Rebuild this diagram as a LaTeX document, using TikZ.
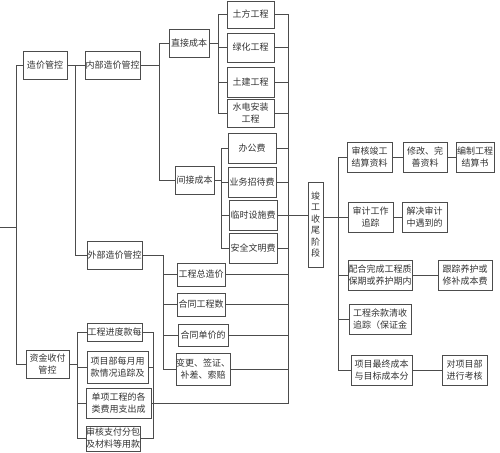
\documentclass[tikz,border=0pt]{standalone}
\usepackage{fontspec}
\newfontfamily\cjk{Noto Sans CJK SC}
\tikzset{
    cost box/.style={
        draw=black!70,line width=0.8pt,
        fill=white,inner sep=0pt,
        align=center,text=black!80,
        font=\cjk\fontsize{9}{12}\selectfont
    },
    box size/.style 2 args={minimum width=#1pt,minimum height=#2pt},
    bus line/.style={draw=black!70,line width=0.8pt}
}
\begin{document}
\begin{tikzpicture}[x=1pt,y=-1pt]
\useasboundingbox (0,0) rectangle (500,452);
\foreach \n/\x/\y/\w/\h/\t in {zjgk/45/65/44/28/造价管控,nbgk/112.5/65/55/28/内部造价管控,
    wbgk/114.5/255/55/28/外部造价管控,zjsf/47.5/364/43/28/资金收付\\管控,
    zjcb/189/43/40/28/直接成本,jjcb/194.5/180/39/28/间接成本,
    tf/250.5/14.5/47/27/土方工程,lh/250.5/47.5/47/29/绿化工程,
    tj/250.5/82/47/30/土建工程,sd/250.5/113/47/28/水电安装\\工程,
    bgf/252/148/48/30/办公费,ywzd/252/182/48/30/业务招待费,
    lssf/253/215/48/30/临时设施费,aqwm/253/248/48/30/安全文明费,
    gczj/201/274.5/48/23/工程总造价,htgcs/201/304.5/48/23/合同工程数,
    htdj/203/335/50/22/合同单价的,bg/203/369/50/32/变更、签证、\\补差、索赔,
    jdk/114.5/332/55/18/工程进度款每,xmb/117.5/367/61/32/项目部每月用\\款情况追踪及,
    dx/118.5/403/65/30/单项工程的各\\类费用支出成,sh/113/438.5/54/25/审核支付分包\\及材料等用款}
    \node[cost box,box size={\w}{\h}] (\n) at (\x,\y) {\t};
\node[cost box,box size={15}{85},font=\cjk\fontsize{9}{11.5}\selectfont] (jg) at (315.5,224.5) {竣\\工\\收\\尾\\阶\\段};
\foreach \n/\x/\y/\w/\t in {shjg/369.5/157/45/审核竣工\\结算资料,xg/425/157/44/修改、完\\善资料,
    bz/475/157/38/编制工程\\结算书,sj/370.5/217/45/审计工作\\追踪,jj/424.5/217/45/解决审计\\中遇到的,
    ph/380/275/64/配合完成工程质\\保期或养护期内,gz/465/275/54/跟踪养护或\\修补成本费,
    yk/380/319.5/62/工程余款清收\\追踪（保证金,zz/381.5/370/61/项目最终成本\\与目标成本分,
    kh/464.5/370/45/对项目部\\进行考核}
    \node[cost box,box size={\w}{30}] (\n) at (\x,\y) {\t};
\coordinate (edge) at (0,227);
\coordinate (root) at (16,227);
\coordinate (b1) at (75,65);
\coordinate (b2) at (159,65);
\coordinate (b3) at (218,43);
\coordinate (b4) at (221,180);
\coordinate (b5) at (288,215);
\coordinate (b6) at (163,255);
\coordinate (b7) at (77,364);
\coordinate (b8) at (153,403);
\coordinate (b9) at (338,217);
\draw[bus line] (edge) -- (root);
\draw[bus line] (root) |- (zjgk);
\draw[bus line] (root) |- (zjsf);
\draw[bus line] (zjgk) -- (nbgk);
\draw[bus line] (b1) |- (wbgk);
\draw[bus line] (nbgk) -- (b2);
\draw[bus line] (b2) |- (zjcb);
\draw[bus line] (b2) |- (jjcb);
\draw[bus line] (zjcb) -- (b3);
\foreach \n in {tf,lh,tj,sd}
    \draw[bus line] (b3) |- (\n);
\draw[bus line] (jjcb) -- (b4);
\foreach \n in {bgf,ywzd,lssf,aqwm}
    \draw[bus line] (b4) |- (\n);
\foreach \n in {tf,lh,tj,sd,bgf,ywzd,aqwm,gczj,htgcs,htdj,bg,dx}
    \draw[bus line] (\n) -| (b5);
\draw[bus line] (lssf) -- (lssf -| jg.west);
\draw[bus line] (wbgk) -- (b6);
\foreach \n in {gczj,htgcs,htdj,bg}
    \draw[bus line] (b6) |- (\n);
\draw[bus line] (zjsf) -- (b7);
\foreach \n in {jdk,xmb,dx,sh}
    \draw[bus line] (b7) |- (\n);
\foreach \n in {jdk,xmb,sh}
    \draw[bus line] (\n) -| (b8);
\draw[bus line] (b9 -| jg.east) -- (b9);
\foreach \n in {shjg,sj,ph,yk,zz}
    \draw[bus line] (b9) |- (\n);
\draw[bus line] (shjg) -- (xg);
\draw[bus line] (xg) -- (bz);
\draw[bus line] (sj) -- (jj);
\draw[bus line] (ph) -- (gz);
\draw[bus line] (zz) -- (kh);
\end{tikzpicture}
\end{document}
